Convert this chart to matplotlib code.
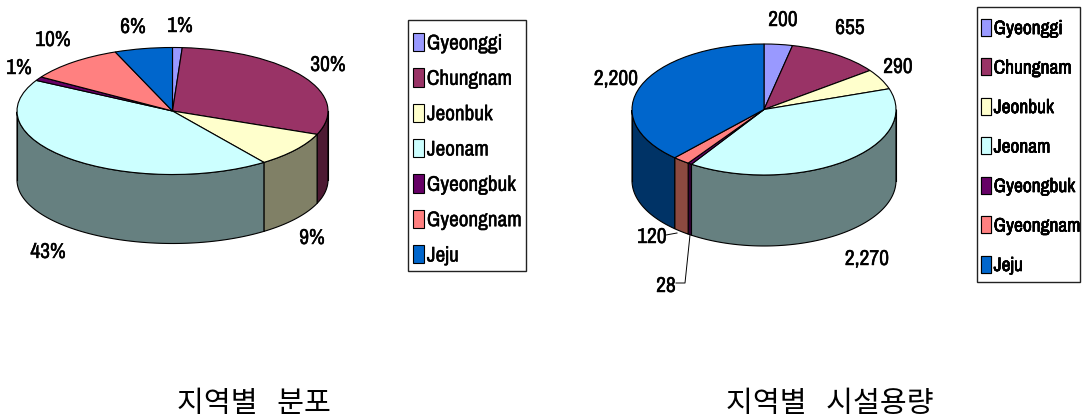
# 지역별 분포 / 시설용량 3D 파이 차트
import numpy as np
import matplotlib
matplotlib.use("Agg")
import matplotlib.pyplot as plt
import matplotlib.patheffects as pe
from matplotlib.patches import Rectangle

W, H = 1082, 418

regions = ["Gyeonggi", "Chungnam", "Jeonbuk", "Jeonam", "Gyeongbuk", "Gyeongnam", "Jeju"]
share_pct = [1, 30, 9, 43, 1, 10, 6]
capacity = [200, 655, 290, 2270, 28, 120, 2200]
share_labels = ["1%", "30%", "9%", "43%", "1%", "10%", "6%"]
capacity_labels = ["200", "655", "290", "2,270", "28", "120", "2,200"]

top_colors = ["#9999ff", "#993366", "#ffffcc", "#ccffff", "#660066", "#ff8080", "#0066cc"]
wall_colors = ["#4d4d80", "#4d1a33", "#808066", "#668080", "#330033", "#8c4a40", "#003366"]

FONT = ["Archivo Narrow", "Liberation Sans", "DejaVu Sans"]
KFONT = ["Noto Sans CJK KR", "DejaVu Sans"]
HEAVY = [pe.withStroke(linewidth=0.3, foreground="black")]


def px_axes(fig, x0, y0, x1, y1):
    # 픽셀 좌표(위에서 아래)로 axes 위치 지정
    return fig.add_axes([x0 / W, 1 - y1 / H, (x1 - x0) / W, (y1 - y0) / H])


def draw_pie(fig, values, cx, cy, rx, ry, depth):
    ax = px_axes(fig, cx - rx, cy - ry, cx + rx, cy + ry)
    wedges, _ = ax.pie(values, startangle=90, counterclock=False, colors=top_colors,
                       wedgeprops={"edgecolor": "black", "linewidth": 0.8, "clip_on": False})
    ax.set_aspect("auto")
    ax.set_xlim(-1, 1)
    ax.set_ylim(-1, 1)
    d = depth / ry
    # 옆면: 값의 각도를 따라 앞쪽 호만 그린다
    ends = 90 - np.cumsum(values) / np.sum(values) * 360
    starts = np.r_[90, ends[:-1]]
    for a1, a0, c in zip(starts, ends, wall_colors):
        t = np.linspace(a0, a1, 200) % 360
        t = np.radians(np.sort(t[t >= 180]))
        if len(t) < 2:
            continue
        xs = np.cos(t)
        ys = np.sin(t)
        ax.fill(np.r_[xs, xs[::-1]], np.r_[ys, ys[::-1] - d], facecolor=c,
                edgecolor="black", linewidth=0.8, clip_on=False, zorder=0)
    # 옆면 양끝 세로선
    ax.plot([-1, -1], [0, -d], color="black", lw=0.8, clip_on=False, zorder=0.5)
    ax.plot([1, 1], [0, -d], color="black", lw=0.8, clip_on=False, zorder=0.5)
    return ax, wedges


def add_legend(ax_txt, handles, box, x, y, fs, spacing):
    # 테두리는 직접 그리고 범례 항목만 배치
    x0, y0, x1, y1 = box
    ax_txt.add_patch(Rectangle((x0, y0), x1 - x0, y1 - y0, facecolor="white",
                               edgecolor="#222222", linewidth=1.0))
    leg = ax_txt.legend(handles, regions, loc="upper left",
                        bbox_to_anchor=(x / W, 1 - y / H),
                        bbox_transform=ax_txt.figure.transFigure, frameon=False,
                        borderaxespad=0, borderpad=0,
                        prop={"family": FONT, "size": fs}, labelspacing=spacing,
                        handlelength=0.5, handleheight=0.95, handletextpad=0.15)
    for t in leg.get_texts():
        t.set_path_effects(HEAVY)
    ax_txt.add_artist(leg)


def main():
    fig = plt.figure(figsize=(W / 100, H / 100), dpi=100, facecolor="white")

    # 텍스트용 전체 axes (픽셀 좌표)
    tx = px_axes(fig, 0, 0, W, H)
    tx.set_xlim(0, W)
    tx.set_ylim(H, 0)
    tx.axis("off")
    tx.set_zorder(5)

    _, w1 = draw_pie(fig, np.array(share_pct, float), 172.5, 111, 155.5, 63.5, 69)
    _, w2 = draw_pie(fig, np.array(capacity, float), 764, 109.5, 132, 65.5, 71)

    left_pos = [(180, 26), (328, 65), (312, 238), (48, 252), (19, 68), (53, 40), (133, 27)]
    right_pos = [(783, 20), (850, 28), (898, 67), (867, 259), (666, 286), (652, 237), (616, 79)]
    for (x, y), s in zip(left_pos, share_labels):
        tx.text(x, y, s, ha="center", va="center", family=FONT, fontsize=15.5,
                path_effects=HEAVY)
    for (x, y), s in zip(right_pos, capacity_labels):
        tx.text(x, y, s, ha="center", va="center", family=FONT, fontsize=15.5,
                path_effects=HEAVY)

    # 작은 조각 지시선
    tx.plot([666, 677], [235, 233], color="black", lw=0.7)
    tx.plot([690, 685, 676], [235, 283, 283], color="black", lw=0.7)

    add_legend(tx, w1, (408, 20, 526, 271), 413, 33, 15.3, 0.70)
    add_legend(tx, w2, (977, 7, 1080, 282), 981, 19, 14, 1.05)

    tx.text(254, 404, "지역별   분포", ha="center", va="center", family=KFONT, fontsize=21)
    tx.text(830, 404, "지역별   시설용량", ha="center", va="center", family=KFONT, fontsize=21)

    fig.savefig("out.png", dpi=100)


if __name__ == "__main__":
    main()
